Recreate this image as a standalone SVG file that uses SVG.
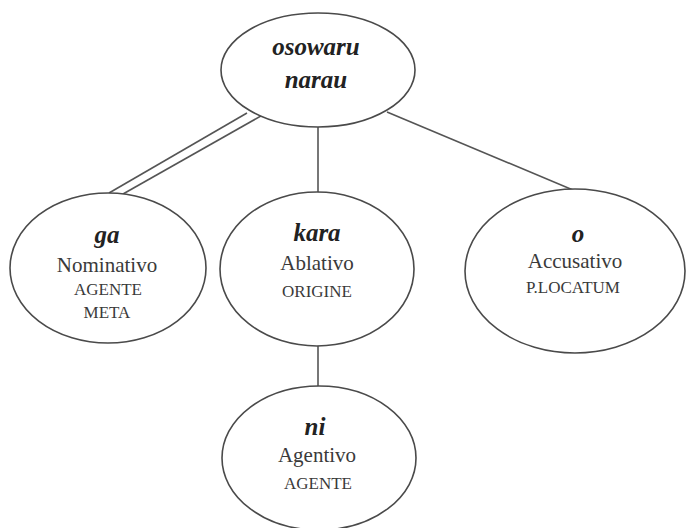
<svg xmlns="http://www.w3.org/2000/svg" width="686" height="528" viewBox="0 0 686 528">
  <style>
    .node ellipse { fill: #ffffff; stroke: #4a4a4a; stroke-width: 1.6; }
    .edges line { stroke: #555555; stroke-width: 1.6; }
    text { font-family: "Liberation Serif", "Times New Roman", serif; text-anchor: middle; fill: #3a3a3a; }
    .case { font-weight: bold; font-style: italic; font-size: 25px; fill: #222222; }
    .name { font-size: 21px; }
    .role { font-size: 17px; }
  </style>
  <rect width="686" height="528" fill="#ffffff"/>

  <!-- connectors -->
  <g id="edges" class="edges">
    <line x1="109" y1="193" x2="247" y2="113"/>
    <line x1="123" y1="194" x2="268" y2="112"/>
    <line x1="318" y1="127" x2="318" y2="192"/>
    <line x1="387" y1="112" x2="573" y2="190"/>
    <line x1="318" y1="346" x2="318" y2="387"/>
  </g>

  <!-- root verb -->
  <g id="node-osowaru-narau" class="node">
    <ellipse cx="318" cy="70" rx="97" ry="57"/>
    <text class="case" x="316" y="55">osowaru</text>
    <text class="case" x="316" y="88">narau</text>
  </g>

  <g id="node-ga" class="node">
    <ellipse cx="108" cy="268" rx="98" ry="75"/>
    <text class="case" x="107" y="243">ga</text>
    <text class="name" x="107" y="272">Nominativo</text>
    <text class="role" x="108" y="295">AGENTE</text>
    <text class="role" x="107" y="318">META</text>
  </g>

  <g id="node-kara" class="node">
    <ellipse cx="317" cy="269" rx="97" ry="77"/>
    <text class="case" x="317" y="241">kara</text>
    <text class="name" x="317" y="270">Ablativo</text>
    <text class="role" x="317" y="297">ORIGINE</text>
  </g>

  <g id="node-o" class="node">
    <ellipse cx="575" cy="271" rx="110" ry="82"/>
    <text class="case" x="578" y="242">o</text>
    <text class="name" x="575" y="268">Accusativo</text>
    <text class="role" x="573" y="293">P.LOCATUM</text>
  </g>

  <g id="node-ni" class="node">
    <ellipse cx="319" cy="458" rx="97" ry="72"/>
    <text class="case" x="315" y="435">ni</text>
    <text class="name" x="317" y="462">Agentivo</text>
    <text class="role" x="318" y="489">AGENTE</text>
  </g>
</svg>
